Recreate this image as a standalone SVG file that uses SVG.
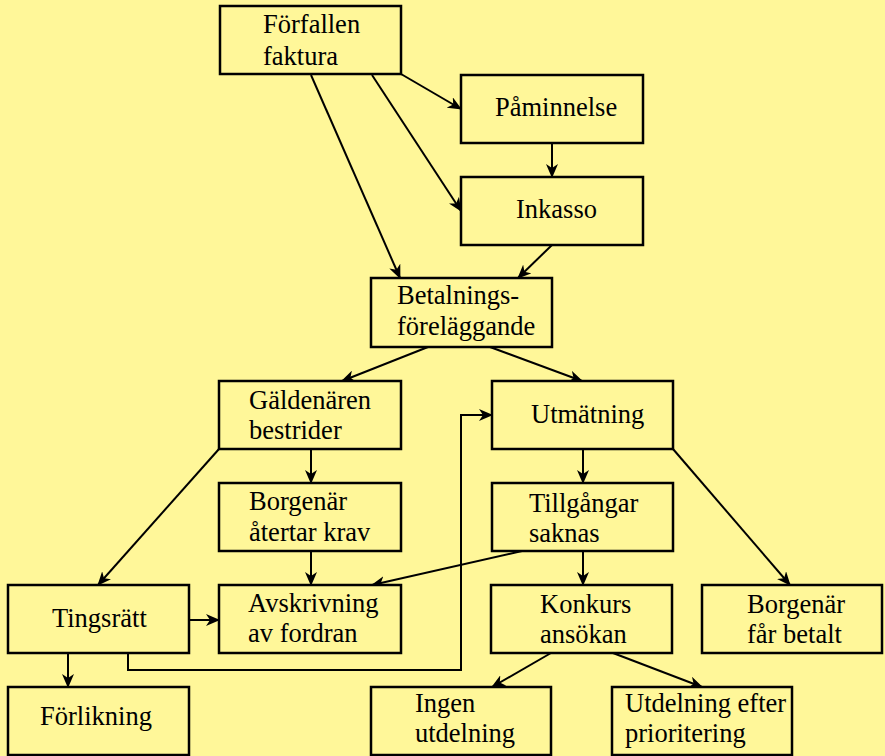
<svg xmlns="http://www.w3.org/2000/svg" width="885" height="756" viewBox="0 0 885 756">
<defs>
<marker id="arr" markerUnits="userSpaceOnUse" markerWidth="14" markerHeight="12" viewBox="0 0 14 12" refX="13" refY="6" orient="auto">
<path d="M0,0 L14,6 L0,12 L4,6 z" fill="#000"/>
</marker>
<style>
.box rect{fill:#FFF799;stroke:#000;stroke-width:2.5}
.t{font-family:'Liberation Serif','Times New Roman','DejaVu Serif',serif;font-size:26.5px;fill:#000}
.c path{fill:none;stroke:#000;stroke-width:2;marker-end:url(#arr)}
</style>
</defs>
<rect x="0" y="0" width="885" height="756" fill="#FFF799"/>
<g class="c" id="connectors">
<path d="M401,74 L461,109"/>
<path d="M372,75 L461,211"/>
<path d="M311,75 L400,278"/>
<path d="M552,143 L552,177"/>
<path d="M552,245 L518,278"/>
<path d="M428,347 L342,381"/>
<path d="M490,347 L582,381"/>
<path d="M219,449 L98,585"/>
<path d="M311,449 L311,483"/>
<path d="M311,551 L311,585"/>
<path d="M522,551 L372,585"/>
<path d="M189,620 L219,620"/>
<path d="M128,653 L128,670 L461,670 L461,415 L492,415"/>
<path d="M68,653 L68,687"/>
<path d="M583,449 L583,483"/>
<path d="M673,449 L790,585"/>
<path d="M583,551 L583,585"/>
<path d="M551,653 L492,687"/>
<path d="M613,653 L702,687"/>
</g>
<g class="t" font-family="Liberation Serif, Times New Roman, serif" font-size="26.5">
<g class="box" id="forfallen"><rect x="220" y="6" width="181" height="68"/><text x="263" y="33">Förfallen</text><text x="263" y="65">faktura</text></g>
<g class="box" id="paminnelse"><rect x="461" y="75" width="182" height="68"/><text x="495" y="116">Påminnelse</text></g>
<g class="box" id="inkasso"><rect x="461" y="177" width="182" height="68"/><text x="516" y="218">Inkasso</text></g>
<g class="box" id="betalning"><rect x="371" y="278" width="181" height="69"/><text x="397" y="304">Betalnings-</text><text x="397" y="335">föreläggande</text></g>
<g class="box" id="galdenaren"><rect x="219" y="381" width="182" height="68"/><text x="249" y="409">Gäldenären</text><text x="249" y="439">bestrider</text></g>
<g class="box" id="borgenar-atertar"><rect x="219" y="483" width="182" height="68"/><text x="249" y="510">Borgenär</text><text x="249" y="541">återtar krav</text></g>
<g class="box" id="utmatning"><rect x="492" y="381" width="181" height="68"/><text x="531" y="423">Utmätning</text></g>
<g class="box" id="tillgangar"><rect x="492" y="483" width="181" height="68"/><text x="529" y="512">Tillgångar</text><text x="529" y="542">saknas</text></g>
<g class="box" id="tingsratt"><rect x="8" y="585" width="181" height="68"/><text x="52" y="627">Tingsrätt</text></g>
<g class="box" id="avskrivning"><rect x="219" y="585" width="182" height="68"/><text x="248" y="612">Avskrivning</text><text x="248" y="642">av fordran</text></g>
<g class="box" id="konkurs"><rect x="491" y="585" width="181" height="68"/><text x="540" y="613">Konkurs</text><text x="540" y="643">ansökan</text></g>
<g class="box" id="borgenar-betalt"><rect x="702" y="585" width="180" height="68"/><text x="747" y="613">Borgenär</text><text x="747" y="643">får betalt</text></g>
<g class="box" id="forlikning"><rect x="8" y="687" width="181" height="68"/><text x="40" y="725">Förlikning</text></g>
<g class="box" id="ingen"><rect x="371" y="687" width="180" height="68"/><text x="415" y="712">Ingen</text><text x="415" y="742">utdelning</text></g>
<g class="box" id="utdelning"><rect x="612" y="687" width="180" height="68"/><text x="625" y="712">Utdelning efter</text><text x="625" y="742">prioritering</text></g>
</g>
</svg>
